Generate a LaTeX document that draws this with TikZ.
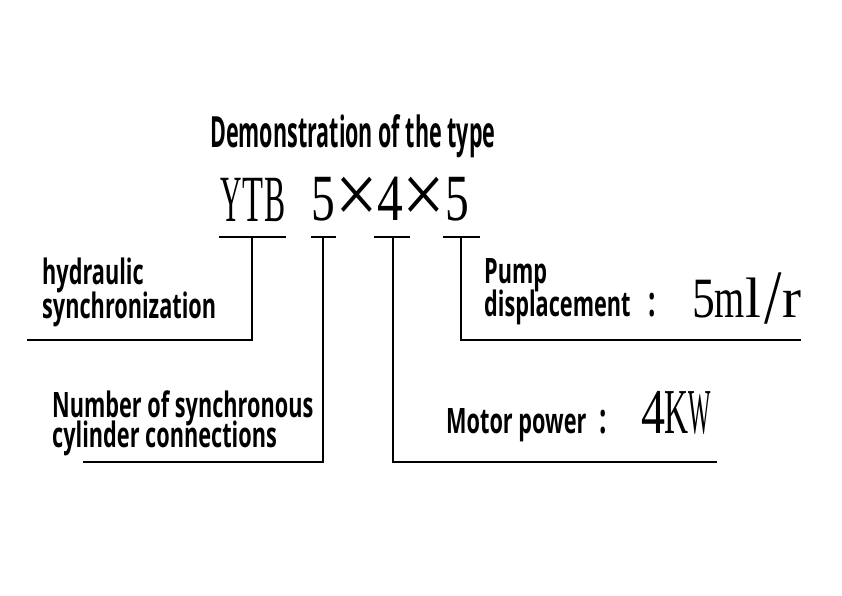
\documentclass[tikz,border=0pt]{standalone}
\usepackage{fontspec}
\usepackage{graphicx}
\newfontfamily\condsans[FakeStretch=0.62]{Open Sans}
\newfontfamily\titlesans[FakeStretch=0.5]{Open Sans}
\newfontfamily\plainserif{Liberation Serif}
\newcommand\sqg[3]{\makebox[#1]{\scalebox{#2}[1]{#3}}}
\newcommand\bigtimes{\raisebox{-3pt}{\fontsize{72}{72}\selectfont\scalebox{1.05}[1.2]{×}}}
\newcommand\tightlines{\lineskiplimit=-50pt\relax\lineskip=0pt\relax}
\newcommand\lblfont[1]{\condsans\bfseries\fontsize{35}{#1}\selectfont\tightlines}
\tikzset{
  lbl/.style={anchor=base west, inner sep=0pt, font={\lblfont{33}}, align=left},
  conn/.style={line width=1.3pt, line cap=rect}
}
\begin{document}
\begin{tikzpicture}[x=1pt,y=-1pt]
\useasboundingbox[fill=white] (0,0) rectangle (842,596);
% title
\node[anchor=base west, inner sep=0pt, font=\titlesans\bfseries\fontsize{43}{43}\selectfont] (title) at (210,148) {Demonstration of the type};
% model code
\node[anchor=base west, inner sep=0pt, font=\plainserif\fontsize{66}{66}\selectfont] (ytb) at (220,221) {\sqg{22pt}{0.45}{Y}\sqg{22pt}{0.52}{T}\sqg{22pt}{0.48}{B}};
\node[anchor=base west, inner sep=0pt, font=\plainserif\fontsize{66}{66}\selectfont] (code) at (306,220) {\sqg{33.5pt}{0.72}{5}\makebox[33.5pt]{\bigtimes}\sqg{33.5pt}{0.78}{4}\makebox[33.5pt]{\bigtimes}\sqg{33.5pt}{0.72}{5}};
% bars
\coordinate (b1l) at (220,237); \coordinate (b1r) at (285,237); \coordinate (t1) at (252,237);
\coordinate (b2l) at (312,237); \coordinate (b2r) at (335,237); \coordinate (t2) at (323,237);
\coordinate (b3l) at (375,237); \coordinate (b3r) at (409,237); \coordinate (t3) at (393,237);
\coordinate (b4l) at (444,237); \coordinate (b4r) at (479,237); \coordinate (t4) at (461,237);
\draw[conn] (b1l) -- (b1r);
\draw[conn] (b2l) -- (b2r);
\draw[conn] (b3l) -- (b3r);
\draw[conn] (b4l) -- (b4r);
% leader ends
\coordinate (e1) at (28,340);
\coordinate (e2) at (84,462);
\coordinate (e3) at (716,462);
\coordinate (e4) at (800,340);
\draw[conn] (t1) |- (e1);
\draw[conn] (t2) |- (e2);
\draw[conn] (t3) |- (e3);
\draw[conn] (t4) |- (e4);
% labels (base anchor = baseline of last line)
\node[lbl, font={\lblfont{34}}] (hyd) at (42,318) {hydraulic\\synchronization};
\node[lbl, font={\lblfont{30}}] (num) at (52,447) {Number of synchronous\\cylinder connections};
\node[lbl] (motor) at (446,433) {Motor power\hspace{13pt}{\fontsize{42}{42}\selectfont :}};
\node[anchor=base west, inner sep=0pt, font=\plainserif\fontsize{64}{64}\selectfont] (kw) at (642,433) {\sqg{22pt}{0.75}{4}\sqg{24pt}{0.52}{K}\sqg{22pt}{0.37}{W}};
\node[lbl, font={\lblfont{33}}] (pump) at (484,316) {Pump\\displacement\hspace{18pt}{\fontsize{42}{42}\selectfont :}};
\node[anchor=base west, inner sep=0pt, font=\plainserif\fontsize{57}{57}\selectfont] (ml) at (693,317) {\sqg{22pt}{0.8}{5}\sqg{29pt}{0.68}{m}\sqg{19pt}{1}{l}\sqg{19pt}{1.1}{\raisebox{-6pt}{\scalebox{1}[1.35]{/}}}\sqg{20pt}{1}{r}};
\end{tikzpicture}
\end{document}
